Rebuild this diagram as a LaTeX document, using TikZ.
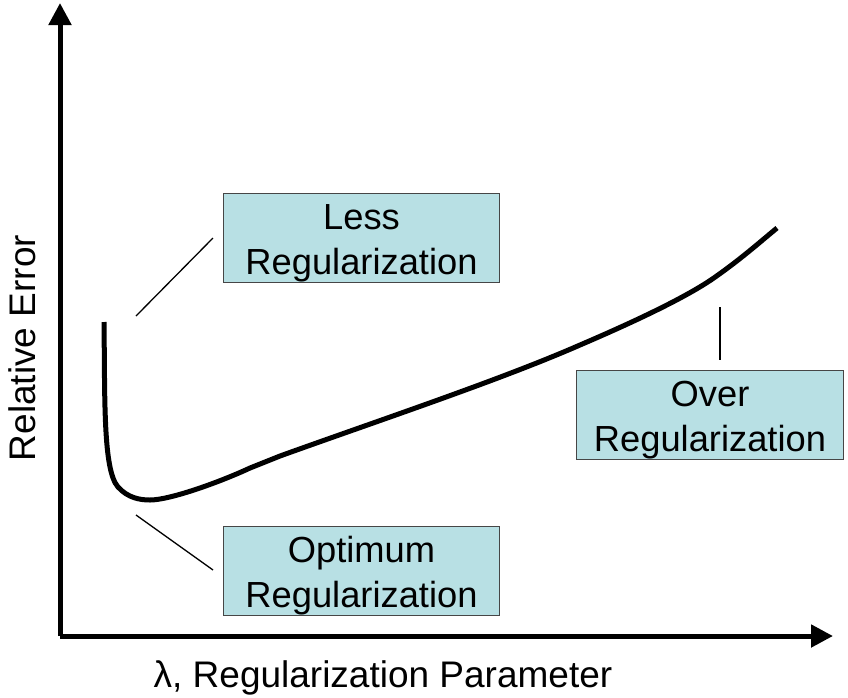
\documentclass[tikz,border=0pt]{standalone}
\usepackage{fontspec}
\setmainfont{Liberation Sans}
\usetikzlibrary{arrows.meta}
\definecolor{boxfill}{RGB}{184,224,228}
\definecolor{boxline}{RGB}{70,70,70}
\newcommand{\topstrut}{\rule{0pt}{36pt}}
\tikzset{
  lbl/.style={draw=boxline, line width=1.2pt, fill=boxfill, align=center, font=\fontsize{36.3}{44.5}\selectfont, inner sep=0pt},
  axlbl/.style={font=\fontsize{37}{44}\selectfont},
  axis/.style={line width=5pt, -{Triangle[length=22pt,width=22pt]}},
  leader/.style={line width=1.3pt},
  curve/.style={line width=5pt}
}
\begin{document}
\begin{tikzpicture}[x=1pt,y=-1pt]
\useasboundingbox (0,0) rectangle (848,697);
% axes
\coordinate (o) at (60,636);
\coordinate (ytop) at (60,3);
\coordinate (xend) at (833,636);
\draw[axis] (o) -- (ytop);
\draw[axis] (o) -- (xend);
% labels of axes
\node[rotate=90, axlbl] (ylab) at (22,348) {Relative Error};
\node[axlbl] (xlab) at (383,678) {λ, Regularization Parameter};
% curve
\draw[curve] (104,322) .. controls (105,400) and (103,470) .. (118,487)
  .. controls (128,498) and (140,500) .. (150,500)
  .. controls (170,500) and (220,482) .. (250,468)
  .. controls (265,462) and (270,460) .. (280,456)
  .. controls (380,420) and (500,380) .. (580,345)
  .. controls (650,315) and (695,292) .. (718,275)
  .. controls (742,258) and (760,242) .. (777,228);
% boxes
\node[lbl, minimum width=276pt, minimum height=89pt] (less) at (361.5,238) {\topstrut Less\\Regularization};
\node[lbl, minimum width=276pt, minimum height=89pt] (opt) at (361.5,571) {\topstrut Optimum\\Regularization};
\node[lbl, minimum width=267pt, minimum height=89pt] (over) at (710,415) {\topstrut Over\\Regularization};
% leaders
\coordinate (l1) at (136,316);
\coordinate (l2) at (213,238);
\coordinate (o1) at (136,515);
\coordinate (o2) at (213,570);
\coordinate (v1) at (720,307);
\coordinate (v2) at (720,360);
\draw[leader] (l1) -- (l2);
\draw[leader] (o1) -- (o2);
\draw[leader] (v1) -- (v2);
\end{tikzpicture}
\end{document}
